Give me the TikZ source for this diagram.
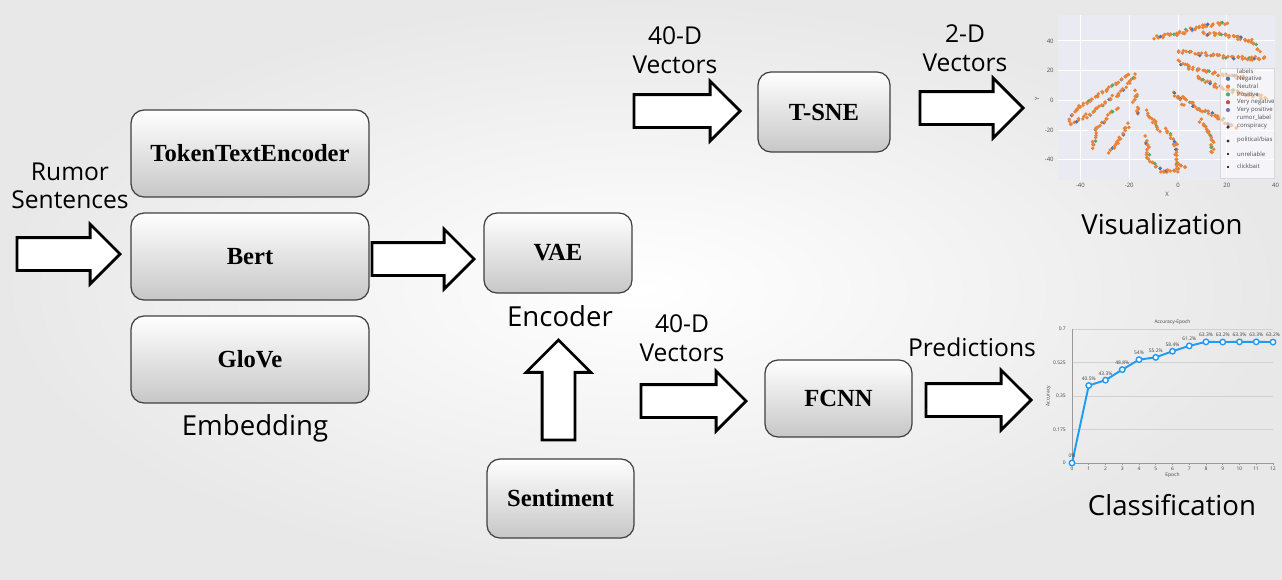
\documentclass[tikz,border=0pt]{standalone}
\usepackage{fontspec}
\setmainfont{Liberation Serif}
\setsansfont{Open Sans}
\usepackage{tikz}
\usetikzlibrary{shapes,arrows,positioning,calc}

\definecolor{snsbg}{HTML}{EAEAF2}
\definecolor{snsblue}{HTML}{4C72B0}
\definecolor{snsorange}{HTML}{E8833A}
\definecolor{snsgreen}{HTML}{55A868}
\definecolor{snsred}{HTML}{C44E52}
\definecolor{snspurple}{HTML}{8172B3}
\definecolor{chartblue}{HTML}{1E9BF5}

\tikzset{
	blk/.style={draw=black!75, line width=0.7pt, rounded corners=0.26cm,
		top color=white, bottom color=black!22,
		font=\rmfamily\bfseries\fontsize{14}{16}\selectfont,
		minimum width=4.76cm, minimum height=1.74cm},
	lbl/.style={font=\sffamily\fontsize{14}{16.2}\selectfont, align=center, inner sep=0},
	biglbl/.style={lbl, font=\sffamily\fontsize{15.7}{18}\selectfont},
	barrow/.style={single arrow, draw=black, fill=white, line width=1.6pt,
		minimum height=2.06cm, inner xsep=0, inner ysep=0.3cm,
		single arrow head extend=0.27cm, anchor=tip},
	tinyl/.style={font=\sffamily\fontsize{3.4}{4}\selectfont, text=black!70, inner sep=0.5pt},
	chartl/.style={font=\sffamily\fontsize{2.8}{3.2}\selectfont, text=black!75, inner sep=0.5pt},
}
% a row of scatter dots between two points
\newcommand{\scatseg}[3]{%
	\pgfmathtruncatemacro{\nn}{2*#3}
	\foreach \k in {0,...,\nn} {
		\pgfmathsetmacro{\kk}{\k/\nn}
		\pgfmathtruncatemacro{\km}{mod(\k*7+\nn,11)}
		\ifnum\km=0 \def\dc{snsblue}\else\ifnum\km=5 \def\dc{snsgreen}\else\def\dc{snsorange}\fi\fi
		\fill[\dc] ($#1!\kk!#2+(rand*0.7,rand*1.1)$) circle (1.1pt);
	}}

\begin{document}
\begin{tikzpicture}[x=0.02cm, y=-0.02cm]
	\pgfmathsetseed{7}
	% background
	\shade[inner color=white, outer color=black!9] (0,0) rectangle (1282,579);
	\useasboundingbox (0,0) rectangle (1282,579);

	% embedding boxes
	\node[blk] (tok) at (250,153.5) {TokenTextEncoder};
	\node[blk] (bert) at (250,256.5) {Bert};
	\node[blk] (glove) at (250,359.5) {GloVe};
	\node[biglbl] (emb) at (255,428) {Embedding};

	\node[lbl] (rumor) at (70,186) {Rumor\\Sentences};
	\node[barrow] (ain) at (122,254) {};

	% encoder
	\node[blk, minimum width=2.96cm, minimum height=1.6cm] (vae) at (558,253) {VAE};
	\node[biglbl] (enc) at (560,316) {Encoder};
	\node[barrow, minimum height=2.04cm] (aenc) at (476,259) {};
	\node[blk, minimum width=2.94cm, minimum height=1.58cm] (senti) at (560.5,498.5) {Sentiment};
	\node[barrow, rotate=90, minimum height=2cm, single arrow head extend=0.32cm] (aup) at (558.5,338) {};

	% visualization branch
	\node[lbl] (vtop) at (675,50) {40-D\\Vectors};
	\node[barrow, minimum height=2.12cm] (atsne) at (742,111) {};
	\node[blk, minimum width=2.64cm, minimum height=1.6cm] (tsne) at (824,112) {T-SNE};
	\node[lbl] (vtwo) at (965,48) {2-D\\Vectors};
	\node[barrow] (avis) at (1025,108) {};
	\node[biglbl] (visu) at (1162,224) {Visualization};

	% classification branch
	\node[lbl] (vbot) at (682,338) {40-D\\Vectors};
	\node[barrow, minimum height=2.1cm] (afcnn) at (748,401) {};
	\node[blk, minimum width=2.94cm, minimum height=1.54cm] (fcnn) at (838.5,398.5) {FCNN};
	\node[lbl] (pred) at (972,347) {Predictions};
	\node[barrow, minimum height=2.1cm] (acls) at (1033,400) {};
	\node[biglbl] (cls) at (1172,505) {Classification};

	% t-sne scatter
	\begin{scope}[shift={(1178,100.3)}, x=0.0488cm, y=0.0297cm]
		\fill[snsbg] (-49.2,-53.7) rectangle (39.8,57.4);
		\foreach \gx in {-40,-20,0,20}
			\draw[white, line width=0.5pt] (\gx,-53.7) -- (\gx,57.4);
		\foreach \gy in {-40,-20,0,20,40}
			\draw[white, line width=0.5pt] (-49.2,\gy) -- (39.8,\gy);
		\foreach \gx in {-40,-20,0,20,40}
			\node[tinyl, anchor=north] at (\gx,-55) {\gx};
		\foreach \gy in {-40,-20,0,20,40}
			\node[tinyl, anchor=east] at (-50.5,\gy) {\gy};
		\node[tinyl] (xlab) at (-4.5,-63.4) {X};
		\node[tinyl, rotate=90] (ylab) at (-57.8,0.9) {Y};

		\scatseg{(-10,42)}{(0,45)}{6} \scatseg{(0,45)}{(10,50)}{7} \scatseg{(10,50)}{(20,52)}{6}
		\scatseg{(10,45)}{(20,44)}{6} \scatseg{(20,44)}{(30,40)}{7} \scatseg{(30,40)}{(33,33)}{3}
		\scatseg{(0,33)}{(15,30)}{9} \scatseg{(15,30)}{(30,28)}{9} \scatseg{(30,28)}{(36,29)}{4}
		\scatseg{(0,26)}{(5,22)}{4} \scatseg{(5,22)}{(15,18)}{6} \scatseg{(15,18)}{(27,15)}{7}
		\scatseg{(8,16)}{(15,10)}{5} \scatseg{(15,10)}{(25,5)}{6} \scatseg{(25,5)}{(36,2)}{7}
		\scatseg{(-2,6)}{(0,2)}{2} \scatseg{(0,2)}{(2,-3)}{2}
		\scatseg{(2,2)}{(8,-5)}{5} \scatseg{(8,-5)}{(15,-10)}{5} \scatseg{(15,-10)}{(24,-19)}{7}
		\scatseg{(9,-13)}{(12,-20)}{3} \scatseg{(12,-20)}{(14,-28)}{3} \scatseg{(14,-28)}{(14,-35)}{3}
		\scatseg{(-45,-13)}{(-40,-4)}{4} \scatseg{(-40,-4)}{(-30,6)}{7} \scatseg{(-30,6)}{(-20,18)}{7}
		\scatseg{(-44,-16)}{(-35,-8)}{6} \scatseg{(-35,-8)}{(-25,4)}{7} \scatseg{(-25,4)}{(-17,17)}{6}
		\scatseg{(-35,-32)}{(-33,-18)}{5} \scatseg{(-33,-18)}{(-25,-5)}{6}
		\scatseg{(-28,-35)}{(-24,-26)}{4} \scatseg{(-24,-26)}{(-20,-16)}{4}
		\scatseg{(-13,-25)}{(-12,-40)}{6} \scatseg{(-12,-40)}{(-6,-48)}{5} \scatseg{(-6,-48)}{(0,-47)}{4}
		\scatseg{(-13,-7)}{(-10,-14)}{3} \scatseg{(-10,-14)}{(-8,-21)}{3}
		\scatseg{(-5,-19)}{(-1,-30)}{5} \scatseg{(-1,-30)}{(0,-45)}{6} \scatseg{(0,-45)}{(3,-44)}{2}
		\scatseg{(-17,-9)}{(-16,-4)}{2}
		\scatseg{(-18,-1)}{(-17,6)}{3}
	\end{scope}
	% legend
	\fill[white, opacity=0.55] (1220,68) rectangle (1274,178);
	\draw[black!15, line width=0.3pt] (1220,68) rectangle (1274,178);
	\node[tinyl, anchor=west] (leg0) at (1236,71) {labels};
	\foreach \c/\t [count=\i] in {snsblue/Negative, snsorange/Neutral, snsgreen/Positive, snsred/Very negative, snspurple/Very positive} {
		\fill[\c] (1228,71+7.8*\i) circle (1.2pt);
		\node[tinyl, anchor=west] at (1236,71+7.8*\i) {\t};
	}
	\node[tinyl, anchor=west] (leg6) at (1236,118) {rumor\_label};
	\fill[black!80] (1228,127) circle (1pt);
	\node[tinyl, anchor=west] (leg7) at (1236,126) {conspiracy};
	\fill[black!80] (1228,141) circle (0.9pt);
	\node[tinyl, anchor=west] (leg8) at (1236,140) {political/bias};
	\fill[black!80] (1226.8,153) rectangle (1229.2,155.4);
	\node[tinyl, anchor=west] (leg9) at (1236,154) {unreliable};
	\draw[black!80, line width=0.6pt] (1226.6,167) -- (1229.4,167) (1228,165.6) -- (1228,168.4);
	\node[tinyl, anchor=west] (leg10) at (1236,166) {clickbait};

	% accuracy chart
	\begin{scope}[shift={(1072,463)}, x=0.335cm, y=0.03829cm]
		\foreach \v/\t in {0/0, 17.5/0.175, 35/0.35, 52.5/0.525, 70/0.7} {
			\draw[black!18, line width=0.4pt] (0,\v) -- (12,\v);
			\node[chartl, anchor=east] at (-0.3,\v) {\t};
		}
		\draw[black!40, line width=0.4pt] (0,0) -- (0,70);
		\draw[black!40, line width=0.4pt] (0,0) -- (12,0);
		\foreach \e in {0,...,12} {
			\draw[black!40, line width=0.3pt] (\e,0) -- (\e,-1);
			\node[chartl, anchor=north] at (\e,-1.2) {\e};
		}
		\node[chartl] (ctitle) at (6,73.5) {Accuracy-Epoch};
		\node[chartl] (cxlab) at (6,-6.5) {Epoch};
		\node[chartl, rotate=90] (cylab) at (-1.4,35) {Accuracy};
		\draw[chartblue, line width=1.1pt] plot coordinates {(0,0) (1,40.5) (2,43.3) (3,48.8) (4,54) (5,55.2) (6,58.4) (7,61.2) (8,63.3) (9,63.2) (10,63.3) (11,63.3) (12,63.2)};
		\foreach \e/\v/\t in {0/0/0\%, 1/40.5/40.5\%, 2/43.3/43.3\%, 3/48.8/48.8\%, 4/54/54\%, 5/55.2/55.2\%, 6/58.4/58.4\%, 7/61.2/61.2\%, 8/63.3/63.3\%, 9/63.2/63.2\%, 10/63.3/63.3\%, 11/63.3/63.3\%, 12/63.2/63.2\%} {
			\draw[chartblue, fill=white, line width=0.8pt] (\e,\v) circle (0.055cm);
			\node[chartl, anchor=south] at (\e,\v+2) {\t};
		}
	\end{scope}
\end{tikzpicture}
\end{document}
